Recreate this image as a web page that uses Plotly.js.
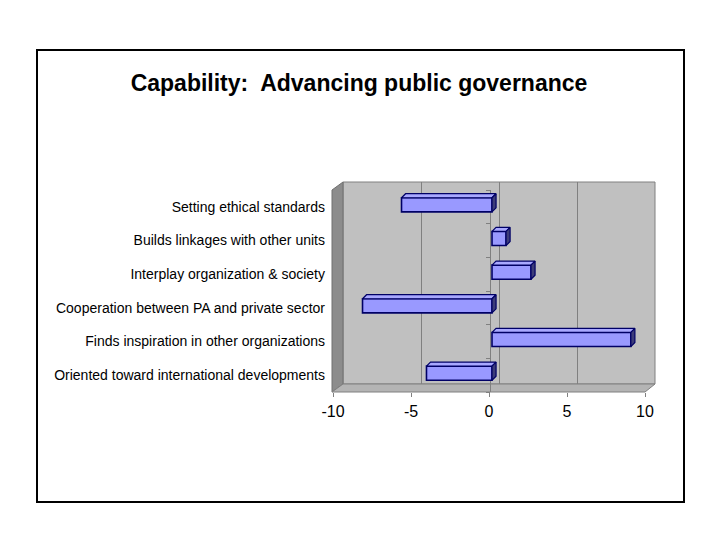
<!DOCTYPE html>
<html>
<head>
<meta charset="utf-8">
<script src="https://cdn.plot.ly/plotly-3.0.1.min.js"></script>
<style>html,body{margin:0;padding:0;background:#fff}#chart{width:720px;height:540px}</style>
</head>
<body>
<div id="chart"></div>
<script>
const categories = [
  'Oriented toward international developments',
  'Finds inspiration in other organizations',
  'Cooperation between PA and private sector',
  'Interplay organization & society',
  'Builds linkages with other units',
  'Setting ethical standards'
];
const values = [-4.2, 8.9, -8.3, 2.5, 0.9, -5.8];
const xTickVals = [-10, -5, 0, 5, 10];
const xTickText = ['-10', '-5', '0', '5', '10'];
const titleText = 'Capability:  Advancing public governance';

const W = 720, H = 540;
const fx = p => p / W;
const fy = p => 1 - p / H;
const positions = categories.map((c, i) => i);
const boundaries = categories.map((c, i) => i - 0.5).concat([categories.length - 0.5]);

// 3D depth of bars (style constants, in axis units)
const BW = 0.42, DX = 0.26, DY = 0.12;
const topX = [], topY = [], sideX = [], sideY = [];
values.forEach((v, i) => {
  const lo = Math.min(0, v), hi = Math.max(0, v);
  const t = positions[i] + BW / 2, b = positions[i] - BW / 2;
  topX.push(lo, hi, hi + DX, lo + DX, lo, null);
  topY.push(t, t, t + DY, t + DY, t, null);
  sideX.push(hi, hi + DX, hi + DX, hi, hi, null);
  sideY.push(b, b + DY, t + DY, t, b, null);
});

const traces = [
  {type: 'scatter', x: [], y: [], xaxis: 'x2', yaxis: 'y2', hoverinfo: 'skip', showlegend: false},
  {type: 'scatter', x: [], y: [], xaxis: 'x', yaxis: 'y4', hoverinfo: 'skip', showlegend: false},
  {type: 'scatter', x: [], y: [], xaxis: 'x', yaxis: 'y', hoverinfo: 'skip', showlegend: false},
  {type: 'scatter', mode: 'lines', x: topX, y: topY, xaxis: 'x3', yaxis: 'y3', fill: 'toself',
   fillcolor: '#A8A8FF', line: {color: '#000066', width: 1.2}, hoverinfo: 'skip', showlegend: false},
  {type: 'scatter', mode: 'lines', x: sideX, y: sideY, xaxis: 'x3', yaxis: 'y3', fill: 'toself',
   fillcolor: '#3C3C78', line: {color: '#000066', width: 1.2}, hoverinfo: 'skip', showlegend: false},
  {type: 'bar', orientation: 'h', x: values, y: positions, width: BW, xaxis: 'x3', yaxis: 'y3',
   marker: {color: '#9999FF', line: {color: '#000066', width: 1.6}}, showlegend: false}
];

const layout = {
  width: W, height: H,
  margin: {l: 0, r: 0, t: 0, b: 0},
  paper_bgcolor: '#ffffff',
  plot_bgcolor: 'rgba(0,0,0,0)',
  showlegend: false,
  font: {family: 'Arial, Liberation Sans, sans-serif', color: '#000'},
  title: {
    text: titleText, x: fx(359), xref: 'paper', xanchor: 'center',
    y: fy(83), yref: 'paper', yanchor: 'middle',
    font: {family: 'Arial, Liberation Sans, sans-serif', size: 23, weight: 'bold', color: '#000'}
  },
  xaxis: {
    domain: [fx(333), fx(645)], range: [-10, 10], anchor: 'y',
    tickmode: 'array', tickvals: xTickVals, ticktext: xTickText,
    ticks: 'outside', ticklen: 4, tickcolor: '#808080',
    showgrid: false, zeroline: false, showline: false, automargin: false,
    ticklabelstandoff: 1,
    tickfont: {size: 16, color: '#000'}, fixedrange: true
  },
  yaxis: {
    domain: [fy(392), fy(190)], range: [-0.5, 5.5], anchor: 'x',
    tickmode: 'array', tickvals: positions, ticktext: categories,
    ticks: '', showgrid: false, zeroline: false, showline: false, automargin: false,
    ticklabelstandoff: 7,
    tickfont: {size: 14, color: '#000'}, fixedrange: true
  },
  xaxis2: {
    domain: [fx(343), fx(655)], range: [-10, 10], anchor: 'y2',
    tickmode: 'array', tickvals: [-5, 0, 5], showticklabels: false, ticks: '',
    showgrid: true, gridcolor: '#808080', gridwidth: 1, zeroline: false, showline: false,
    automargin: false, fixedrange: true
  },
  yaxis2: {
    domain: [fy(384), fy(182)], range: [0, 1], anchor: 'x2', visible: false, fixedrange: true
  },
  xaxis3: {
    domain: [fx(336), fx(648)], range: [-10, 10], anchor: 'y3', visible: false, fixedrange: true
  },
  yaxis3: {
    domain: [fy(390), fy(188)], range: [-0.5, 5.5], anchor: 'x3', visible: false, fixedrange: true
  },
  yaxis4: {
    overlaying: 'y', anchor: 'free', position: fx(489.5), side: 'left',
    range: [-0.5, 5.5], tickmode: 'array', tickvals: boundaries,
    ticks: 'outside', ticklen: 4, tickcolor: '#808080',
    showline: true, linecolor: '#808080', linewidth: 1,
    showticklabels: false, showgrid: false, zeroline: false, automargin: false, fixedrange: true
  },
  shapes: [
    {type: 'rect', xref: 'paper', yref: 'paper', x0: fx(343), x1: fx(655), y0: fy(384), y1: fy(182),
     fillcolor: '#C0C0C0', line: {color: '#808080', width: 1}, layer: 'below'},
    {type: 'path', xref: 'paper', yref: 'paper', layer: 'below',
     path: `M ${fx(332)},${fy(190)} L ${fx(343)},${fy(182)} L ${fx(343)},${fy(384)} L ${fx(332)},${fy(392)} Z`,
     fillcolor: '#8C8C8C', line: {color: '#707070', width: 1}},
    {type: 'path', xref: 'paper', yref: 'paper', layer: 'below',
     path: `M ${fx(332)},${fy(392)} L ${fx(343)},${fy(384)} L ${fx(655)},${fy(384)} L ${fx(645)},${fy(392)} Z`,
     fillcolor: '#B4B4B4', line: {color: '#808080', width: 1}},
    {type: 'rect', xref: 'paper', yref: 'paper', x0: fx(37), x1: fx(684), y0: fy(502), y1: fy(50),
     fillcolor: 'rgba(0,0,0,0)', line: {color: '#000000', width: 2}, layer: 'above'}
  ]
};

Plotly.newPlot('chart', traces, layout, {staticPlot: true, displayModeBar: false});
</script>
</body>
</html>
